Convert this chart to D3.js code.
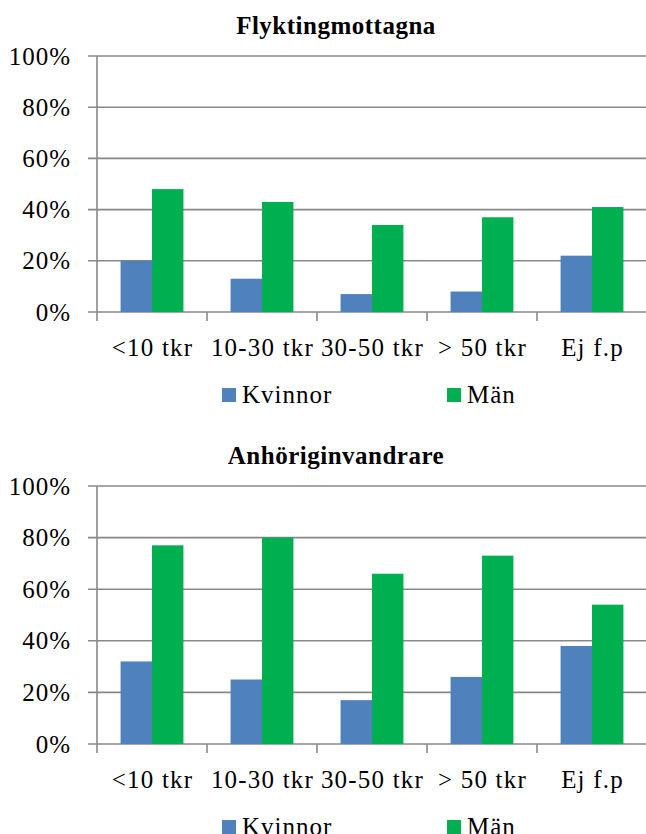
<!DOCTYPE html>
<html>
<head>
<meta charset="utf-8">
<script src="https://cdn.jsdelivr.net/npm/d3@7"></script>
<style>
  body { margin: 0; background: #fff; }
  text { font-family: "Liberation Serif", "DejaVu Serif", serif; fill: #000; }
</style>
</head>
<body>
<script>
var categories = ['<10 tkr', '10-30 tkr', '30-50 tkr', '> 50 tkr', 'Ej f.p']
var seriesNames = ['Kvinnor', 'Män']
var seriesColors = ['#4F81BD', '#00B050']
var yTicks = [0, 20, 40, 60, 80, 100]

var flyktKvinnor = [20, 13, 7, 8, 22]
var flyktMan = [48, 43, 34, 37, 41]
var anhorKvinnor = [32, 25, 17, 26, 38]
var anhorMan = [77, 80, 66, 73, 54]

var width = 646, height = 834

var svg = d3.select("body").append("svg")
  .attr("width", width)
  .attr("height", height)

function drawChart(title, kvinnor, man, top, bottom) {
  var g = svg.append("g")

  var x = d3.scaleBand().domain(categories).range([97, 647]).padding(0)
  var gap = x.bandwidth() * 1.5 / 3.5
  var xs = d3.scaleBand().domain(seriesNames).range([gap / 2, x.bandwidth() - gap / 2])
  var y = d3.scaleLinear().domain([0, 100]).range([bottom, top])

  g.append("text")
    .attr("x", 336)
    .attr("y", top - 22)
    .attr("text-anchor", "middle")
    .style("font-size", "25px")
    .style("font-weight", "bold")
    .style("letter-spacing", "0.5px")
    .text(title)

  // gridlines + y labels
  g.selectAll(".grid")
    .data(yTicks)
    .enter().append("line")
    .attr("x1", 88)
    .attr("x2", width)
    .attr("y1", function(d) { return y(d) })
    .attr("y2", function(d) { return y(d) })
    .attr("stroke", "#888")
    .attr("stroke-width", 1.6)

  g.selectAll(".ylab")
    .data(yTicks)
    .enter().append("text")
    .attr("x", 71)
    .attr("y", function(d) { return y(d) })
    .attr("dy", "0.34em")
    .attr("text-anchor", "end")
    .style("font-size", "25px")
    .style("letter-spacing", "1px")
    .text(function(d) { return d + "%" })

  // vertical axis + category ticks
  g.append("line")
    .attr("x1", 97).attr("x2", 97)
    .attr("y1", y(100)).attr("y2", y(0) + 9)
    .attr("stroke", "#888")
    .attr("stroke-width", 1.6)

  g.selectAll(".xtick")
    .data(categories.slice(1))
    .enter().append("line")
    .attr("x1", function(d) { return x(d) })
    .attr("x2", function(d) { return x(d) })
    .attr("y1", y(0))
    .attr("y2", y(0) + 9)
    .attr("stroke", "#888")
    .attr("stroke-width", 1.6)

  var rows = categories.map(function(c, i) {
    return { cat: c, vals: [kvinnor[i], man[i]] }
  })

  var groups = g.selectAll(".grp")
    .data(rows)
    .enter().append("g")
    .attr("transform", function(d) { return "translate(" + x(d.cat) + " 0)" })

  groups.selectAll("rect")
    .data(function(d) { return d.vals.map(function(v, j) { return { name: seriesNames[j], v: v, j: j } }) })
    .enter().append("rect")
    .attr("x", function(d) { return xs(d.name) })
    .attr("width", xs.bandwidth())
    .attr("y", function(d) { return y(d.v) })
    .attr("height", function(d) { return y(0) - y(d.v) })
    .attr("fill", function(d) { return seriesColors[d.j] })

  groups.append("text")
    .attr("x", x.bandwidth() / 2 + 0.5)
    .attr("y", y(0) + 44)
    .attr("text-anchor", "middle")
    .style("font-size", "25px")
    .style("letter-spacing", "1.2px")
    .text(function(d) { return d.cat })

  // legend
  var legX = [222, 447]
  var leg = g.selectAll(".leg")
    .data(seriesNames)
    .enter().append("g")
    .attr("transform", function(d, i) { return "translate(" + legX[i] + " " + (y(0) + 83) + ")" })

  leg.append("rect")
    .attr("x", 0).attr("y", -7)
    .attr("width", 14).attr("height", 14)
    .attr("fill", function(d, i) { return seriesColors[i] })

  leg.append("text")
    .attr("x", 20)
    .attr("y", 8)
    .style("font-size", "25px")
    .style("letter-spacing", "1px")
    .text(function(d) { return d })
}

drawChart("Flyktingmottagna", flyktKvinnor, flyktMan, 56, 312)
drawChart("Anhöriginvandrare", anhorKvinnor, anhorMan, 486, 744)
</script>
</body>
</html>
